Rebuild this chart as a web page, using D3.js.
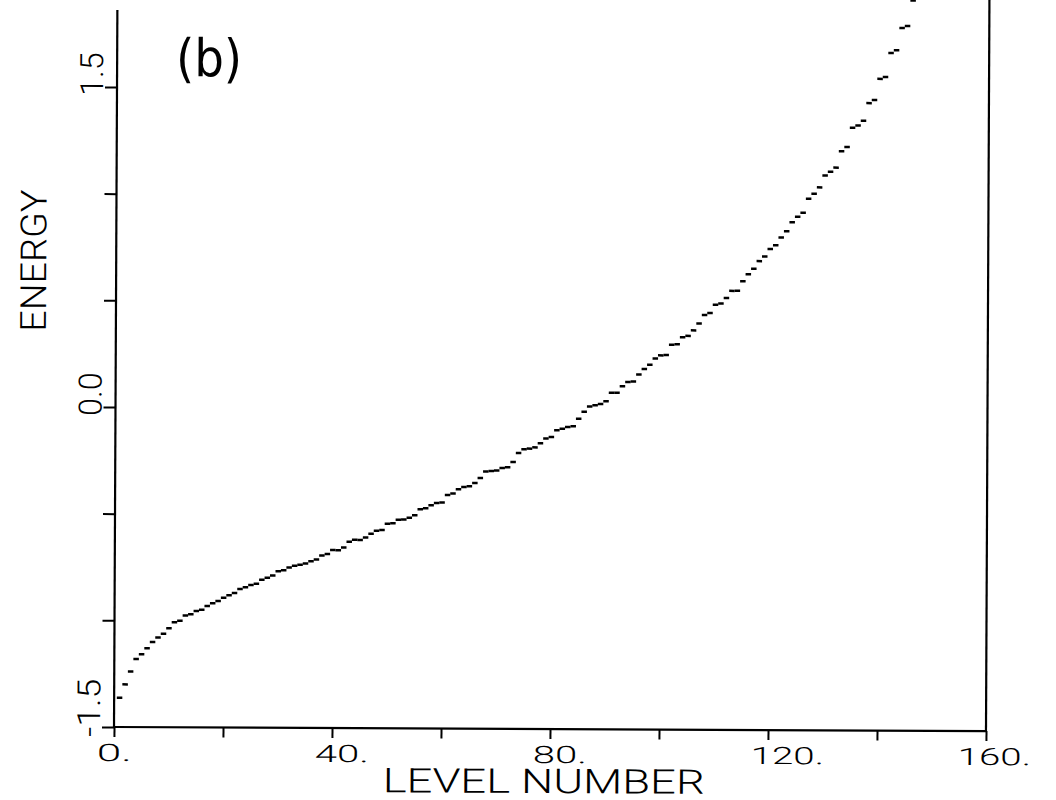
<!DOCTYPE html>
<html><head><meta charset="utf-8">
<script src="https://cdn.jsdelivr.net/npm/d3@7/dist/d3.min.js"></script>
<style>body{margin:0;background:#fff}svg{display:block}</style>
</head><body><svg id="c" width="1056" height="800"></svg>
<script>
// Energy of each level (levels 1..146)
const energies = [
 -1.363,-1.300,-1.239,-1.181,-1.158,-1.130,-1.101,-1.080,-1.062,-1.036,
 -1.008,-1.001,-0.976,-0.970,-0.954,-0.948,-0.931,-0.918,-0.907,-0.892,
 -0.880,-0.869,-0.850,-0.842,-0.831,-0.825,-0.806,-0.797,-0.786,-0.766,
 -0.762,-0.748,-0.740,-0.735,-0.729,-0.719,-0.710,-0.692,-0.684,-0.666,
 -0.667,-0.654,-0.626,-0.617,-0.618,-0.606,-0.588,-0.574,-0.571,-0.541,
 -0.539,-0.522,-0.521,-0.513,-0.501,-0.473,-0.468,-0.454,-0.443,-0.440,
 -0.405,-0.398,-0.378,-0.367,-0.364,-0.348,-0.325,-0.294,-0.292,-0.289,
 -0.277,-0.274,-0.249,-0.207,-0.189,-0.186,-0.180,-0.160,-0.138,-0.131,
 -0.099,-0.092,-0.084,-0.080,-0.045,-0.012, 0.013, 0.019, 0.025, 0.038,
  0.078, 0.078, 0.109, 0.128, 0.131, 0.164, 0.190, 0.210, 0.239, 0.254,
  0.256, 0.304, 0.307, 0.339, 0.346, 0.372, 0.404, 0.444, 0.454, 0.493,
  0.499, 0.524, 0.558, 0.559, 0.603, 0.636, 0.662, 0.698, 0.720, 0.755,
  0.773, 0.809, 0.839, 0.881, 0.907, 0.926, 0.991, 1.015, 1.045, 1.101,
  1.119, 1.138, 1.215, 1.235, 1.325, 1.336, 1.358, 1.441, 1.456, 1.555,
  1.564, 1.676, 1.690, 1.794, 1.803, 1.923
];
const levels = energies.map((_, i) => i + 1);

const xTickValues = [0, 20, 40, 60, 80, 100, 120, 140, 160];
const xLabelValues = [0, 40, 80, 120, 160];
const xTickLabels = ["0.", "40.", "80.", "120.", "160."];
const yTickValues = [-1.5, -1.0, -0.5, 0.0, 0.5, 1.0, 1.5];
const yLabelValues = [-1.5, 0.0, 1.5];
const yTickLabels = ["-1.5", "0.0", "1.5"];
const xTitle = "LEVEL NUMBER";
const yTitle = "ENERGY";
const panelLabel = "(b)";

const FONT = "Roboto, 'DejaVu Sans', sans-serif";
const svg = d3.select("#c");
svg.append("rect").attr("width", 1056).attr("height", 800).attr("fill", "#fff");

const x = d3.scaleLinear().domain([0, 160]).range([114, 986]);
const y = d3.scaleLinear().domain([-1.5, 1.5]).range([727, 87]);

const g = svg.append("g").attr("transform", "rotate(0.27,114,727)");

// bottom axis ticks
g.append("g").attr("transform", `translate(0,${y(-1.5)})`)
  .call(d3.axisBottom(x).tickValues(xTickValues).tickSize(10).tickFormat(""))
  .call(a => a.select(".domain").remove())
  .call(a => a.selectAll("line").attr("stroke", "#000").attr("stroke-width", 2));

// left axis ticks
g.append("g").attr("transform", `translate(${x(0)},0)`)
  .call(d3.axisLeft(y).tickValues(yTickValues).tickSize(12).tickFormat(""))
  .call(a => a.select(".domain").remove())
  .call(a => a.selectAll("line").attr("stroke", "#000").attr("stroke-width", 2));

// frame lines
g.append("line").attr("x1", x(0)).attr("x2", x(160)).attr("y1", y(-1.5)).attr("y2", y(-1.5))
  .attr("stroke", "#000").attr("stroke-width", 2.2);
g.append("line").attr("x1", x(0)).attr("x2", x(0)).attr("y1", y(-1.5)).attr("y2", 10)
  .attr("stroke", "#000").attr("stroke-width", 2.2);
g.append("line").attr("x1", x(160)).attr("x2", x(160)).attr("y1", y(-1.5)).attr("y2", -6)
  .attr("stroke", "#000").attr("stroke-width", 2.2);

// level markers: short horizontal dashes
g.append("g").selectAll("rect").data(levels).join("rect")
  .attr("x", d => x(d) - 2.75)
  .attr("y", (d, i) => y(energies[i]) - 1.25)
  .attr("width", 5.5).attr("height", 2.5).attr("fill", "#000");

// x tick labels
g.append("g").selectAll("text").data(xLabelValues).join("text")
  .attr("x", (d, i) => x(d) - (i === xLabelValues.length - 1 ? 28 : 17))
  .attr("y", 761)
  .attr("font-family", FONT).attr("font-weight", 300).attr("font-size", 24)
  .attr("textLength", (d, i) => xTickLabels[i].length * 19 - 3)
  .attr("lengthAdjust", "spacingAndGlyphs")
  .text((d, i) => xTickLabels[i]);

// y tick labels (rotated)
g.append("g").selectAll("text").data(yLabelValues).join("text")
  .attr("transform", d => `translate(100,${y(d) + (d === -1.5 ? 10 : 9)}) rotate(-90)`)
  .attr("font-family", FONT).attr("font-weight", 300).attr("font-size", 32)
  .attr("textLength", (d, i) => yTickLabels[i].length * 14.5)
  .attr("lengthAdjust", "spacingAndGlyphs")
  .text((d, i) => yTickLabels[i]);

// axis titles
g.append("text").attr("x", 383).attr("y", 791)
  .attr("font-family", FONT).attr("font-weight", 300).attr("font-size", 34)
  .attr("textLength", 322).attr("lengthAdjust", "spacingAndGlyphs")
  .text(xTitle);
g.append("text").attr("transform", "translate(44,332) rotate(-90)")
  .attr("font-family", FONT).attr("font-weight", 300).attr("font-size", 36)
  .attr("textLength", 142).attr("lengthAdjust", "spacingAndGlyphs")
  .text(yTitle);

// panel label
g.append("text").attr("x", 173).attr("y", 76)
  .attr("font-family", "'DejaVu Sans', sans-serif").attr("font-size", 52)
  .attr("textLength", 66).attr("lengthAdjust", "spacingAndGlyphs")
  .text(panelLabel);
</script></body></html>
